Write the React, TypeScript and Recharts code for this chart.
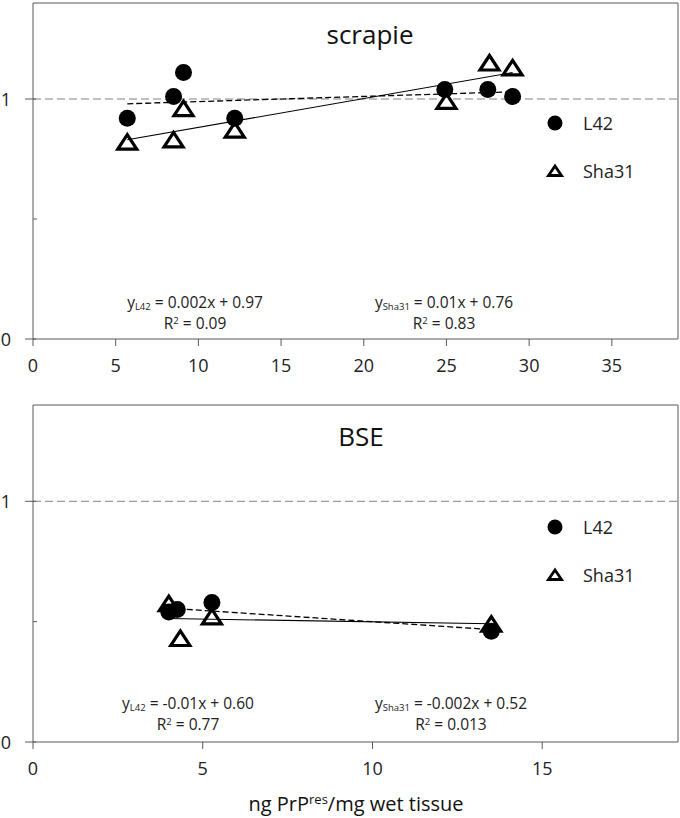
import React from 'react';
import { ScatterChart, Scatter, XAxis, YAxis, ReferenceLine } from 'recharts';

// scrapie panel
const scrapieL42 = [
  { x: 5.7, y: 0.92 },
  { x: 8.5, y: 1.01 },
  { x: 9.1, y: 1.11 },
  { x: 12.2, y: 0.92 },
  { x: 24.9, y: 1.04 },
  { x: 27.5, y: 1.04 },
  { x: 29.0, y: 1.01 },
];
const scrapieSha31 = [
  { x: 5.7, y: 0.82 },
  { x: 8.5, y: 0.83 },
  { x: 9.1, y: 0.96 },
  { x: 12.2, y: 0.87 },
  { x: 25.0, y: 0.99 },
  { x: 27.6, y: 1.15 },
  { x: 29.0, y: 1.13 },
];
const scrapieL42Trend = [
  { x: 5.7, y: 0.98 },
  { x: 29.0, y: 1.03 },
];
const scrapieSha31Trend = [
  { x: 5.7, y: 0.83 },
  { x: 29.0, y: 1.11 },
];
const scrapieXTicks = [0, 5, 10, 15, 20, 25, 30, 35];

// BSE panel
const bseL42 = [
  { x: 4.0, y: 0.54 },
  { x: 4.25, y: 0.55 },
  { x: 5.27, y: 0.58 },
  { x: 13.5, y: 0.46 },
];
const bseSha31 = [
  { x: 4.0, y: 0.575 },
  { x: 4.34, y: 0.43 },
  { x: 5.27, y: 0.52 },
  { x: 13.5, y: 0.49 },
];
const bseL42Trend = [
  { x: 4.0, y: 0.556 },
  { x: 13.5, y: 0.467 },
];
const bseSha31Trend = [
  { x: 4.0, y: 0.513 },
  { x: 13.5, y: 0.491 },
];
const bseXTicks = [0, 5, 10, 15];

const yTicks = [0, 0.5, 1];
const yLabels: Record<number, string> = { 0: '0', 1: '1' };

const AXIS = '#595959';
const FONT = '"Open Sans", sans-serif';

const Dot = (props: any) => <circle cx={props.cx} cy={props.cy} r={8.5} fill="#000" />;

const Tri = (props: any) => {
  const { cx, cy } = props;
  return (
    <path
      d={`M${cx},${cy - 7.5} L${cx + 9.5},${cy + 7} L${cx - 9.5},${cy + 7} Z`}
      fill="#fff"
      stroke="#000"
      strokeWidth={3.2}
    />
  );
};

const NoShape = () => <g />;

const YTick = (props: any) => {
  const { x, y, payload } = props;
  const v = payload.value;
  const major = v === 0 || v === 1;
  return (
    <g>
      {major ? (
        <line x1={x - 8} x2={x + 3} y1={y} y2={y} stroke={AXIS} />
      ) : (
        <line x1={x} x2={x + 4} y1={y} y2={y} stroke={AXIS} />
      )}
      {yLabels[v] !== undefined && (
        <text x={x - 27} y={y} textAnchor="middle" dominantBaseline="central" fontSize={18} fill="#222">
          {yLabels[v]}
        </text>
      )}
    </g>
  );
};

const LegendBox = ({ top }: { top: number }) => (
  <svg width={130} height={80} style={{ position: 'absolute', left: 535, top, fontFamily: FONT }}>
    <circle cx={20} cy={15} r={7.5} fill="#000" />
    <text x={48} y={15} dominantBaseline="central" fontSize={18} fill="#222">L42</text>
    <path d="M20,58 L26.5,67.5 L13.5,67.5 Z" fill="#fff" stroke="#000" strokeWidth={2.8} />
    <text x={48} y={63} dominantBaseline="central" fontSize={18} fill="#222">Sha31</text>
  </svg>
);

type Eq = { x: number; y: number; sub: string; rhs: string; r2: string };

const Equation = ({ eq }: { eq: Eq }) => (
  <div
    style={{
      position: 'absolute',
      left: eq.x,
      top: eq.y,
      transform: 'translate(-50%, 0)',
      textAlign: 'center',
      fontSize: 15.5,
      lineHeight: '21px',
      color: '#222',
      whiteSpace: 'nowrap',
    }}
  >
    <div style={{ height: 21 }}>
      y<span style={{ fontSize: 9.5, position: 'relative', top: 2 }}>{eq.sub}</span> = {eq.rhs}
    </div>
    <div style={{ height: 21 }}>
      R<span style={{ fontSize: 9.5, position: 'relative', top: -5 }}>2</span> = {eq.r2}
    </div>
  </div>
);

type PanelProps = {
  top: number;
  height: number;
  marginTop: number;
  xAxisHeight: number;
  xMax: number;
  xTicks: number[];
  l42: { x: number; y: number }[];
  sha31: { x: number; y: number }[];
  l42Trend: { x: number; y: number }[];
  sha31Trend: { x: number; y: number }[];
  title: string;
  titleX: number;
  titleY: number;
  legendTop: number;
  eqs: Eq[];
  children?: React.ReactNode;
};

const Panel = (p: PanelProps) => (
  <div style={{ position: 'absolute', left: 0, top: p.top, width: 680, height: p.height }}>
    <ScatterChart width={680} height={p.height} margin={{ top: p.marginTop, right: 2, left: 0, bottom: 0 }}>
      <XAxis
        type="number"
        dataKey="x"
        domain={[0, p.xMax]}
        ticks={p.xTicks}
        allowDataOverflow
        height={p.xAxisHeight}
        stroke={AXIS}
        tickSize={7}
        tickMargin={13}
        tick={{ fontSize: 18, fill: '#222' }}
      />
      <YAxis
        type="number"
        dataKey="y"
        domain={[0, 1.4]}
        ticks={yTicks}
        width={33}
        stroke={AXIS}
        tickLine={false}
        tickSize={0}
        tickMargin={0}
        tick={<YTick />}
      />
      <ReferenceLine y={1} stroke="#808080" strokeDasharray="8 4" />
      <ReferenceLine y={1.4} stroke={AXIS} />
      <ReferenceLine x={p.xMax} stroke={AXIS} />
      <Scatter name="Sha31" data={p.sha31} shape={<Tri />} isAnimationActive={false} />
      <Scatter name="L42" data={p.l42} shape={<Dot />} isAnimationActive={false} />
      <Scatter
        data={p.sha31Trend}
        line={{ stroke: '#000', strokeWidth: 1.1 }}
        shape={<NoShape />}
        legendType="none"
        isAnimationActive={false}
      />
      <Scatter
        data={p.l42Trend}
        line={{ stroke: '#000', strokeWidth: 1.3, strokeDasharray: '6 3' }}
        shape={<NoShape />}
        legendType="none"
        isAnimationActive={false}
      />
    </ScatterChart>
    <LegendBox top={p.legendTop} />
    <div
      style={{
        position: 'absolute',
        left: p.titleX,
        top: p.titleY,
        transform: 'translate(-50%, -50%)',
        fontSize: 26,
        lineHeight: 1,
        color: '#111',
      }}
    >
      {p.title}
    </div>
    {p.eqs.map((e, i) => (
      <Equation key={i} eq={e} />
    ))}
    {p.children}
  </div>
);

export default function App() {
  return (
    <div style={{ position: 'absolute', left: 0, top: 0, width: 680, height: 818, background: '#fff', fontFamily: FONT }}>
      <Panel
        top={0}
        height={390}
        marginTop={3}
        xAxisHeight={51}
        xMax={39}
        xTicks={scrapieXTicks}
        l42={scrapieL42}
        sha31={scrapieSha31}
        l42Trend={scrapieL42Trend}
        sha31Trend={scrapieSha31Trend}
        title="scrapie"
        titleX={370}
        titleY={34}
        legendTop={108}
        eqs={[
          { x: 195, y: 292, sub: 'L42', rhs: '0.002x + 0.97', r2: '0.09' },
          { x: 444, y: 292, sub: 'Sha31', rhs: '0.01x + 0.76', r2: '0.83' },
        ]}
      />
      <Panel
        top={400}
        height={418}
        marginTop={5}
        xAxisHeight={76}
        xMax={19}
        xTicks={bseXTicks}
        l42={bseL42}
        sha31={bseSha31}
        l42Trend={bseL42Trend}
        sha31Trend={bseSha31Trend}
        title="BSE"
        titleX={361}
        titleY={36}
        legendTop={112}
        eqs={[
          { x: 188, y: 293, sub: 'L42', rhs: '-0.01x + 0.60', r2: '0.77' },
          { x: 451, y: 293, sub: 'Sha31', rhs: '-0.002x + 0.52', r2: '0.013' },
        ]}
      >
        <div
          style={{
            position: 'absolute',
            left: 356,
            top: 404,
            transform: 'translate(-50%, -50%)',
            fontSize: 20,
            lineHeight: 1,
            color: '#111',
            whiteSpace: 'nowrap',
          }}
        >
          ng PrP<span style={{ fontSize: 13, position: 'relative', top: -7 }}>res</span>/mg wet tissue
        </div>
      </Panel>
    </div>
  );
}
